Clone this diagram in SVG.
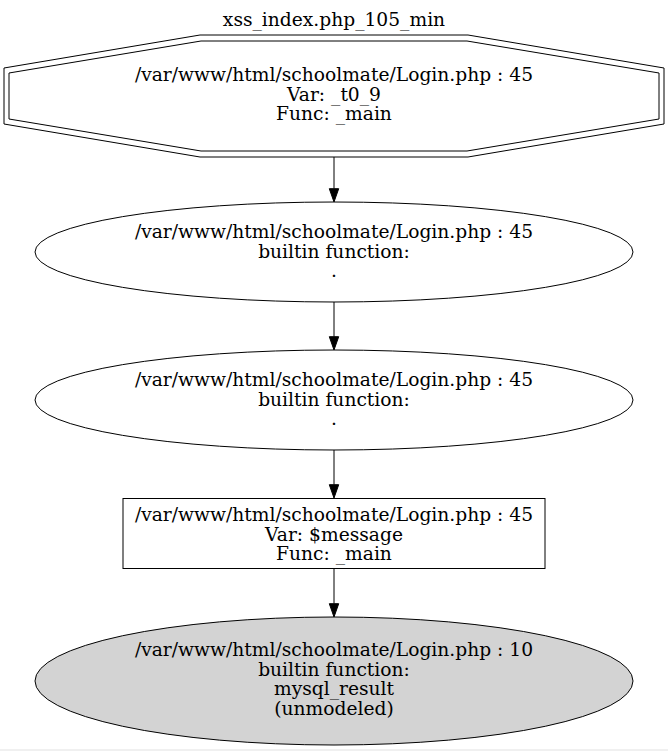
<svg xmlns="http://www.w3.org/2000/svg" width="668" height="751" viewBox="0 0 668 751">
<style>
text{font-family:"DejaVu Serif",serif;font-size:18.67px;text-anchor:middle;fill:#000}
.s{fill:none;stroke:#000;stroke-width:1}
.g{fill:#d3d3d3;stroke:#000;stroke-width:1}
.e{stroke:#000;stroke-width:1;fill:none}
.h{fill:#000;stroke:#000;stroke-width:1}
</style>
<rect x="0" y="0" width="668" height="751" fill="#fff"/>
<rect x="0" y="749" width="668" height="2" fill="#f0f0f0"/>
<text x="334" y="26">xss_index.php_105_min</text>
<g id="n1">
<polygon class="s" points="664,68 664,124 468,157 200,157 4,124 4,68 200,35 468,35"/>
<polygon class="s" points="659,73 659,119 467,151 201,151 9,119 9,73 201,41 467,41"/>
<text x="334" y="81">/var/www/html/schoolmate/Login.php : 45</text>
<text x="334" y="100.5">Var: _t0_9</text>
<text x="334" y="120">Func: _main</text>
</g>
<g id="n2">
<ellipse class="s" cx="334" cy="252" rx="299" ry="50"/>
<text x="334" y="238">/var/www/html/schoolmate/Login.php : 45</text>
<text x="334" y="257.5">builtin function:</text>
<text x="334" y="277">.</text>
</g>
<g id="n3">
<ellipse class="s" cx="334" cy="400" rx="299" ry="50"/>
<text x="334" y="386">/var/www/html/schoolmate/Login.php : 45</text>
<text x="334" y="405.5">builtin function:</text>
<text x="334" y="425">.</text>
</g>
<g id="n4">
<rect class="s" x="123" y="498.5" width="422" height="70"/>
<text x="334" y="521">/var/www/html/schoolmate/Login.php : 45</text>
<text x="334" y="540.5">Var: $message</text>
<text x="334" y="560">Func: _main</text>
</g>
<g id="n5">
<ellipse class="g" cx="334" cy="681" rx="299" ry="64"/>
<text x="334" y="656">/var/www/html/schoolmate/Login.php : 10</text>
<text x="334" y="675.5">builtin function:</text>
<text x="334" y="695">mysql_result</text>
<text x="334" y="714.5">(unmodeled)</text>
</g>
<g id="edges">
<line class="e" x1="334" y1="157" x2="334" y2="188.7"/>
<polygon class="h" points="329.3,188.7 334,202 338.7,188.7"/>
<line class="e" x1="334" y1="302" x2="334" y2="336.7"/>
<polygon class="h" points="329.3,336.7 334,350 338.7,336.7"/>
<line class="e" x1="334" y1="450" x2="334" y2="484.7"/>
<polygon class="h" points="329.3,484.7 334,498 338.7,484.7"/>
<line class="e" x1="334" y1="569" x2="334" y2="603.7"/>
<polygon class="h" points="329.3,603.7 334,617 338.7,603.7"/>
</g>
</svg>
